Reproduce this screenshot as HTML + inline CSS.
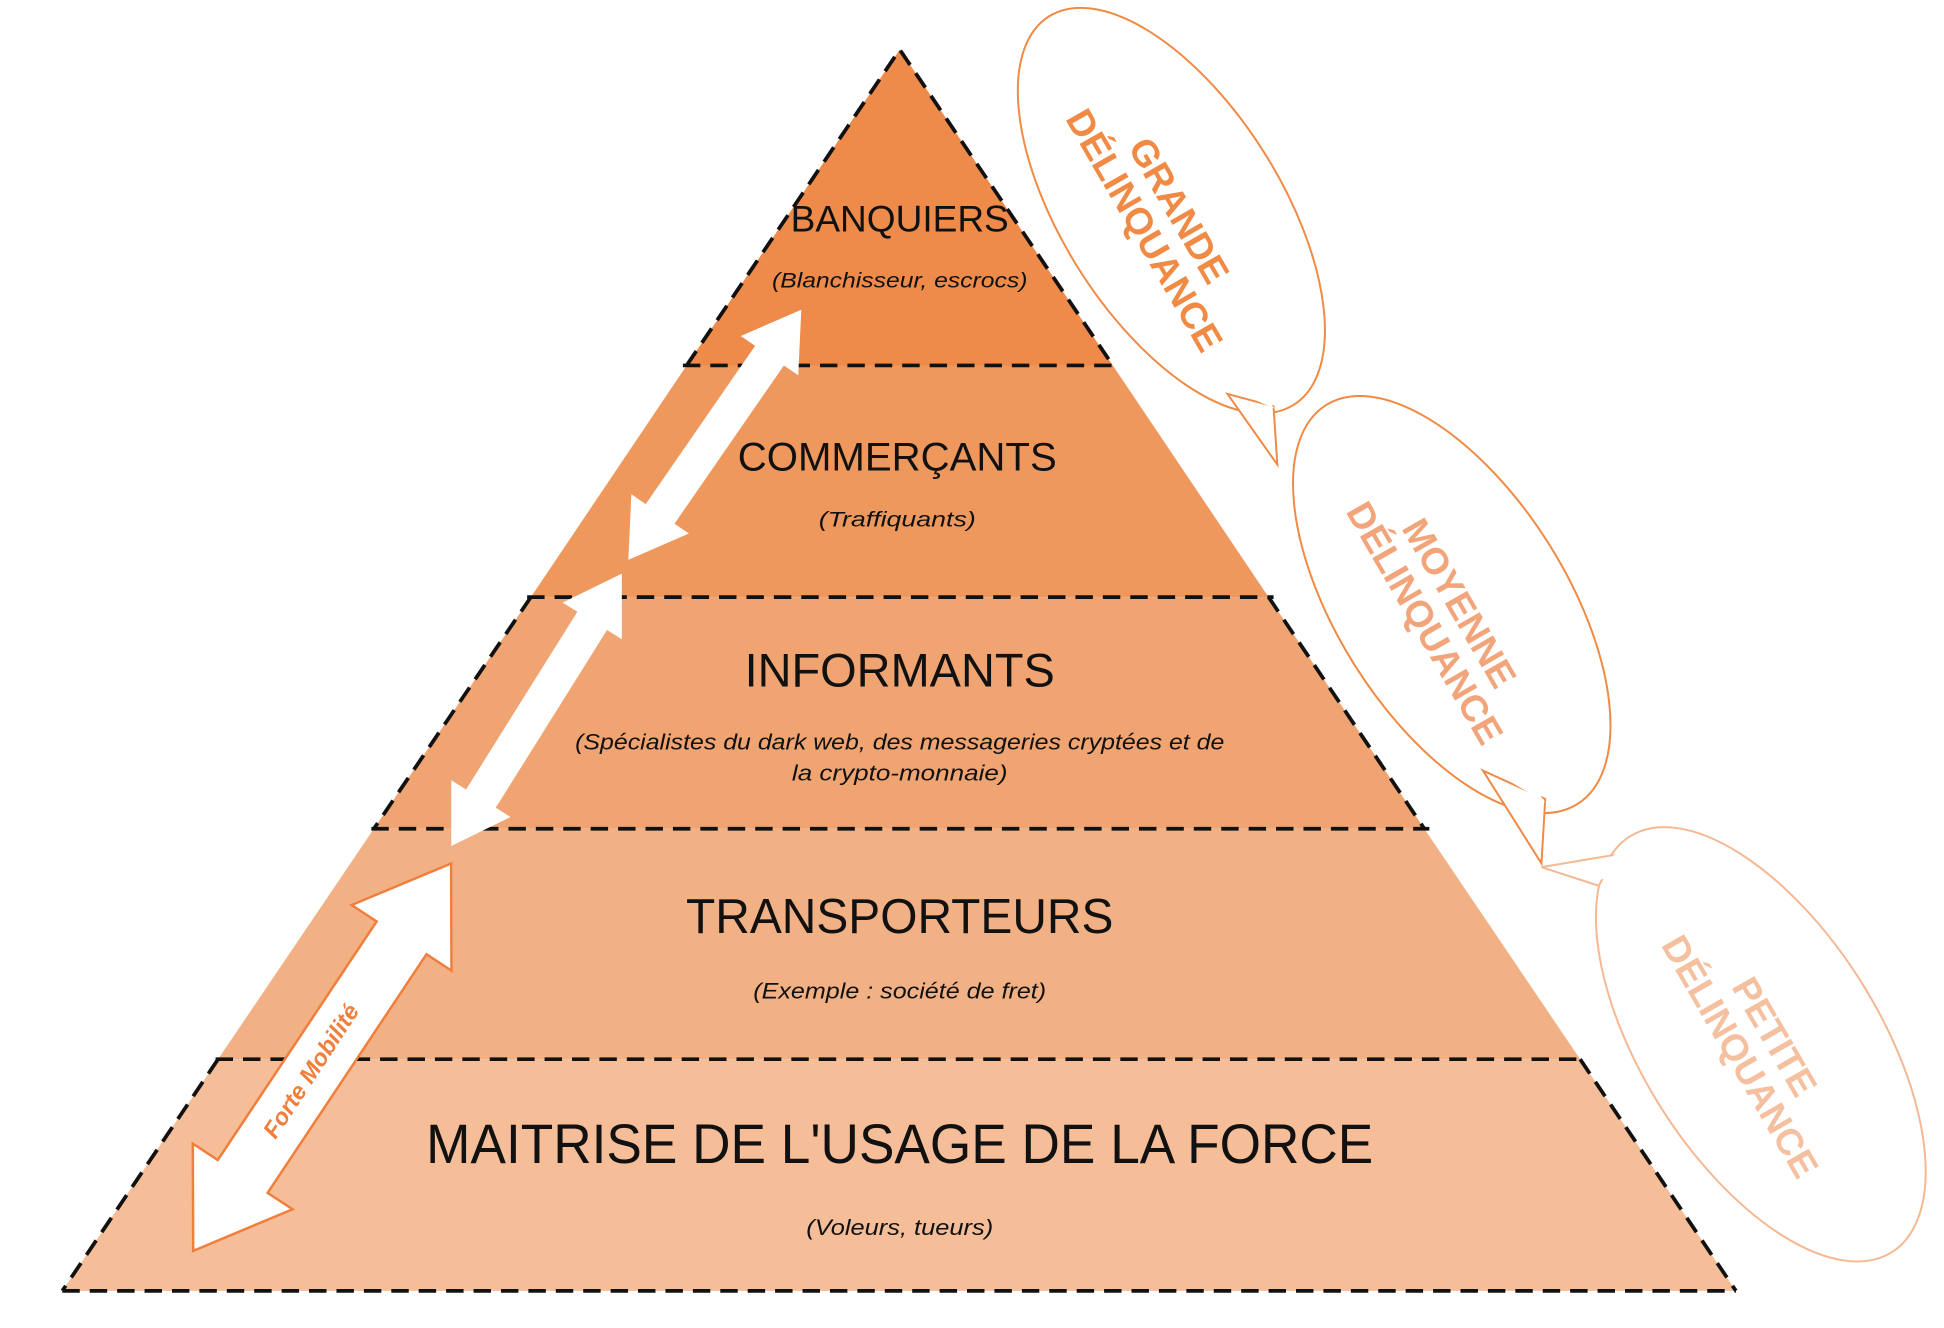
<!DOCTYPE html>
<html><head><meta charset="utf-8"><style>html,body{margin:0;padding:0;background:#fff}svg{display:block}</style></head>
<body>
<svg width="1944" height="1328" viewBox="0 0 1560 1072" preserveAspectRatio="none" xmlns="http://www.w3.org/2000/svg" font-family="'Liberation Sans', sans-serif">
<polygon points="722,40 893,295 551,295" fill="#ee8b4a"/>
<polygon points="551,295 893,295 1018,482 426,482" fill="#ef985e"/>
<polygon points="426,482 1018,482 1143,669 300,669" fill="#f0a471"/>
<polygon points="300,669 1143,669 1268,855 175,855" fill="#f2b185"/>
<polygon points="175,855 1268,855 1393,1042 50,1042" fill="#f5bd98"/>
<g stroke="#111" stroke-width="3" stroke-dasharray="14,8" fill="none">
<polyline points="551,295 722,40 893,295"/>
<line x1="426" y1="482" x2="300" y2="669"/><line x1="1018" y1="482" x2="1143" y2="669"/>
<line x1="175" y1="855" x2="50" y2="1042"/><line x1="1268" y1="855" x2="1393" y2="1042"/>
<line x1="50" y1="1042" x2="1393" y2="1042"/>
<line x1="548" y1="295" x2="895" y2="295"/>
<line x1="423" y1="482" x2="1022" y2="482"/>
<line x1="298" y1="669" x2="1147" y2="669"/>
<line x1="173" y1="855" x2="1270" y2="855"/>
</g>
<g fill="#fff">
<polygon transform="translate(643,250) rotate(124.5)" points="0,0 45,-28 45,-14 200,-14 200,-28 245,0 200,28 200,14 45,14 45,28"/>
<polygon transform="translate(499,463) rotate(121.9)" points="0,0 45,-28 45,-14 214,-14 214,-28 259,0 214,28 214,14 45,14 45,28"/>
<polygon transform="translate(362,697) rotate(123.5)" points="0,0 72,-48 72,-24 303,-24 303,-48 375,0 303,48 303,24 72,24 72,48" stroke="#f07f3c" stroke-width="2"/>
</g>
<text transform="translate(255,868) rotate(-57)" text-anchor="middle" font-size="19" font-weight="bold" font-style="italic" fill="#f07f3c">Forte Mobilité</text>
<g fill="#fff" stroke-width="1.6">
<ellipse cx="940" cy="170" rx="185" ry="88" transform="rotate(58 940 170)" stroke="#f08a45"/>
<polygon points="985,318 1025,375 1022,328" stroke="#f08a45"/>
<polygon points="983,312 1023,330 1000,300" stroke="none"/>
<ellipse cx="1165" cy="488" rx="190" ry="92" transform="rotate(58 1165 488)" stroke="#f08a45"/>
<polygon points="1190,622 1237,697 1240,645" stroke="#f08a45"/>
<polygon points="1186,615 1240,648 1215,610" stroke="none"/>
<ellipse cx="1413" cy="843" rx="198" ry="95" transform="rotate(58 1413 843)" stroke="#f5b893"/>
<polygon points="1283,715 1237,700 1296,690" stroke="#f5b893"/>
<polygon points="1280,712 1298,686 1310,700" stroke="none"/>
</g>
<g font-weight="bold" font-size="30" text-anchor="middle">
<g transform="translate(932,178) rotate(60)" fill="#f08a45"><text y="-6">GRANDE</text><text y="26">DÉLINQUANCE</text></g>
<g transform="translate(1157,495) rotate(60)" fill="#f2a57a"><text y="-6">MOYENNE</text><text y="26">DÉLINQUANCE</text></g>
<g transform="translate(1410,845) rotate(60)" fill="#f5c0a0"><text y="-6">PETITE</text><text y="26">DÉLINQUANCE</text></g>
</g>
<g text-anchor="middle" fill="#111">
<text x="722" y="187" font-size="30" textLength="175" lengthAdjust="spacingAndGlyphs">BANQUIERS</text>
<text x="722" y="232" font-size="17" font-style="italic" textLength="205" lengthAdjust="spacingAndGlyphs">(Blanchisseur, escrocs)</text>
<text x="720" y="380" font-size="32" textLength="256" lengthAdjust="spacingAndGlyphs">COMMERÇANTS</text>
<text x="720" y="425" font-size="17" font-style="italic" textLength="126" lengthAdjust="spacingAndGlyphs">(Traffiquants)</text>
<text x="722" y="554" font-size="38" textLength="249" lengthAdjust="spacingAndGlyphs">INFORMANTS</text>
<text x="722" y="605" font-size="18" font-style="italic" textLength="521" lengthAdjust="spacingAndGlyphs">(Spécialistes du dark web, des messageries cryptées et de</text>
<text x="722" y="630" font-size="18" font-style="italic" textLength="173" lengthAdjust="spacingAndGlyphs">la crypto-monnaie)</text>
<text x="722" y="753" font-size="40" textLength="343" lengthAdjust="spacingAndGlyphs">TRANSPORTEURS</text>
<text x="722" y="806" font-size="18" font-style="italic" textLength="235" lengthAdjust="spacingAndGlyphs">(Exemple : société de fret)</text>
<text x="722" y="939" font-size="45" textLength="760" lengthAdjust="spacingAndGlyphs">MAITRISE DE L'USAGE DE LA FORCE</text>
<text x="722" y="997" font-size="18" font-style="italic" textLength="150" lengthAdjust="spacingAndGlyphs">(Voleurs, tueurs)</text>
</g>
</svg>
</body></html>
